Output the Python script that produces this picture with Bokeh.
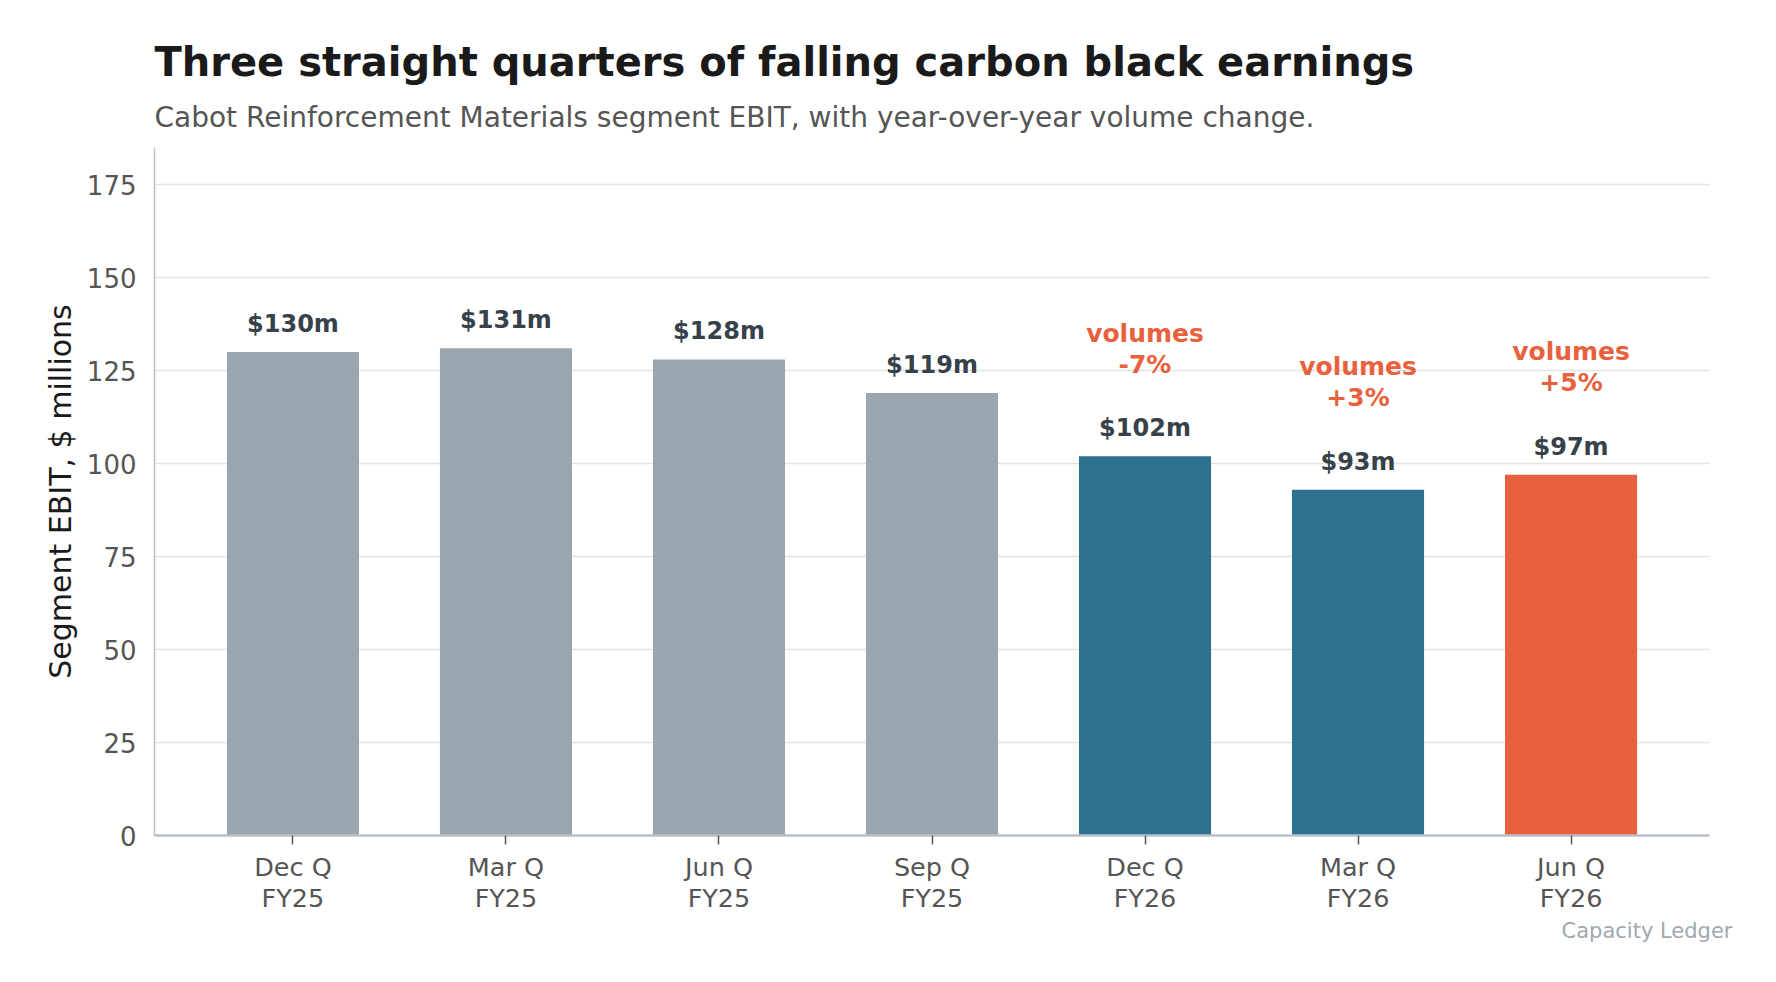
from bokeh.plotting import figure
from bokeh.models import Range1d, FixedTicker, Title, ColumnDataSource
from bokeh.core.properties import value
from bokeh.embed import file_html
from bokeh.resources import INLINE

quarters = ["Dec Q\nFY25", "Mar Q\nFY25", "Jun Q\nFY25", "Sep Q\nFY25",
            "Dec Q\nFY26", "Mar Q\nFY26", "Jun Q\nFY26"]
ebit = [130, 131, 128, 119, 102, 93, 97]
bar_colors = ["#9aa5ae", "#9aa5ae", "#9aa5ae", "#9aa5ae", "#2e7090", "#2e7090", "#e8613d"]
vol_idx = [4, 5, 6]
vol_change = ["-7%", "+3%", "+5%"]
y_ticks = [0, 25, 50, 75, 100, 125, 150, 175]

FONT = "DejaVu Sans"
xs = list(range(len(quarters)))

p = figure(width=1760, height=962, output_backend="svg", toolbar_location=None,
           x_range=Range1d(-0.65, len(quarters) - 0.35), y_range=Range1d(0, 185),
           min_border_left=154, min_border_right=51, min_border_bottom=127,
           min_border_top=147)
p.outline_line_color = None
p.background_fill_color = "white"
p.border_fill_color = "white"

src = ColumnDataSource(dict(x=xs, top=ebit, color=bar_colors,
                            label=[f"${v}m" for v in ebit]))
p.vbar(x="x", top="top", width=0.62, bottom=0, color="color", source=src, line_color=None)

p.text(x="x", y="top", text="label", source=src, y_offset=-28,
       text_align="center", text_baseline="middle", text_font=value(FONT),
       text_font_style="bold", text_font_size="24px", text_color="#37414a")

vsrc = ColumnDataSource(dict(x=[xs[i] for i in vol_idx], y=[ebit[i] for i in vol_idx],
                             l1=["volumes"] * len(vol_idx), l2=vol_change))
p.text(x="x", y="y", text="l1", source=vsrc, y_offset=-123,
       text_align="center", text_baseline="middle", text_font=value(FONT),
       text_font_style="bold", text_font_size="25px", text_color="#e8613d")
p.text(x="x", y="y", text="l2", source=vsrc, y_offset=-92,
       text_align="center", text_baseline="middle", text_font=value(FONT),
       text_font_style="bold", text_font_size="25px", text_color="#e8613d")

# axes
xa = p.xaxis[0]
xa.ticker = FixedTicker(ticks=xs)
xa.major_label_overrides = {i: q for i, q in enumerate(quarters)}
xa.minor_tick_line_color = None
xa.major_tick_in = 0
xa.major_tick_out = 9
xa.major_tick_line_color = "#555555"
xa.major_tick_line_width = 1.5
xa.axis_line_color = "#b8c0c8"
xa.axis_line_width = 2.5
xa.major_label_text_font = FONT
xa.major_label_text_font_size = "25.5px"
xa.major_label_text_color = "#555555"
xa.major_label_text_line_height = 1.05
xa.major_label_standoff = 7

ya = p.yaxis[0]
ya.ticker = FixedTicker(ticks=y_ticks)
ya.minor_tick_line_color = None
ya.major_tick_in = 0
ya.major_tick_out = 0
ya.axis_line_color = "#b8c0c8"
ya.axis_line_width = 1.5
ya.major_label_text_font = FONT
ya.major_label_text_font_size = "26px"
ya.major_label_text_color = "#555555"
ya.major_label_standoff = 18
ya.axis_label = "Segment EBIT, $ millions"
ya.axis_label_text_font = FONT
ya.axis_label_text_font_size = "30px"
ya.axis_label_text_font_style = "normal"
ya.axis_label_text_color = "#1a1a1a"
ya.axis_label_standoff = 6

p.xgrid.grid_line_color = None
p.ygrid.grid_line_color = "#e4e4e4"
p.ygrid.grid_line_width = 1.5
p.ygrid.ticker = FixedTicker(ticks=y_ticks)

p.add_layout(Title(text="Cabot Reinforcement Materials segment EBIT, with year-over-year volume change.",
                   text_font=FONT, text_font_size="28px", text_font_style="normal",
                   text_color="#555555", align="left", standoff=28), "above")
p.add_layout(Title(text="Three straight quarters of falling carbon black earnings",
                   text_font=FONT, text_font_size="40px", text_font_style="bold",
                   text_color="#1a1a1a", align="left", standoff=0), "above")
p.add_layout(Title(text="Capacity Ledger", text_font=FONT, text_font_size="21px",
                   text_font_style="normal", text_color="#a0a8b0", align="right",
                   text_line_height=0.7, offset=-23, standoff=0), "below")

open("out.html", "w").write(file_html(p, INLINE))
